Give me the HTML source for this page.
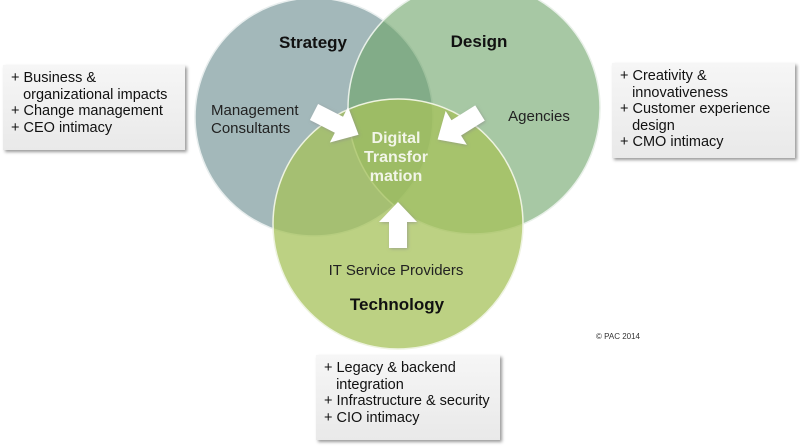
<!DOCTYPE html>
<html><head><meta charset="utf-8"><style>
body{margin:0;width:800px;height:448px;background:#fff;overflow:hidden;font-family:"Liberation Sans",sans-serif}
.box{position:absolute;background:linear-gradient(#f6f6f6,#e9e9e9);box-shadow:2px 2px 3px #999;font-size:14.5px;line-height:16.5px;color:#111;padding:5px 0 0 8px;box-sizing:border-box;white-space:nowrap}
</style></head><body>
<svg width="800" height="448" style="position:absolute;left:0;top:0">
<defs>
<filter id="sh"><feDropShadow dx="1" dy="1" stdDeviation="1.5" flood-color="#888" flood-opacity="0.6"/></filter>
</defs>
<circle cx="314" cy="117" r="119" fill="#a3b8ba" stroke="#e8eeee" stroke-width="1.5"/>
<circle cx="474" cy="108" r="126" fill="#6ca367" fill-opacity="0.6" stroke="#e8f0e8" stroke-width="1.5"/>
<circle cx="398" cy="224" r="125" fill="#a5c25a" fill-opacity="0.75" stroke="#eef3e0" stroke-width="1.5"/>
<g fill="#fff" filter="url(#sh)">
<polygon points="0,-9 28,-9 28,-20 50,0 28,20 28,9 0,9" transform="translate(314,112) rotate(27)"/>
<polygon points="0,-9 28,-9 28,-20 50,0 28,20 28,9 0,9" transform="translate(480,113) rotate(148)"/>
<polygon points="0,-9 26,-9 26,-19 46,0 26,19 26,9 0,9" transform="translate(398,248) rotate(-90)"/>
</g>
<g font-family="Liberation Sans, sans-serif">
<text x="313" y="48" font-size="17" font-weight="bold" text-anchor="middle" fill="#111">Strategy</text>
<text x="479" y="47" font-size="17" font-weight="bold" text-anchor="middle" fill="#111">Design</text>
<text x="397" y="310" font-size="17" font-weight="bold" text-anchor="middle" fill="#111">Technology</text>
<text x="211" y="115" font-size="15" fill="#222">Management</text>
<text x="211" y="133" font-size="15" fill="#222">Consultants</text>
<text x="539" y="121" font-size="15" fill="#222" text-anchor="middle">Agencies</text>
<text x="396" y="275" font-size="15" fill="#222" text-anchor="middle">IT Service Providers</text>
<text x="396" y="143" font-size="16" font-weight="bold" fill="#f2f5e8" text-anchor="middle">Digital</text>
<text x="396" y="162" font-size="16" font-weight="bold" fill="#f2f5e8" text-anchor="middle">Transfor</text>
<text x="396" y="181" font-size="16" font-weight="bold" fill="#f2f5e8" text-anchor="middle">mation</text>
<text x="596" y="339" font-size="8" fill="#333">© PAC 2014</text>
</g>
</svg>
<div class="box" style="left:3px;top:65px;width:182px;height:85px">
+ Business &amp;<br>&nbsp;&nbsp;&nbsp;organizational impacts<br>+ Change management<br>+ CEO intimacy</div>
<div class="box" style="left:612px;top:63px;width:183px;height:95px">
+ Creativity &amp;<br>&nbsp;&nbsp;&nbsp;innovativeness<br>+ Customer experience<br>&nbsp;&nbsp;&nbsp;design<br>+ CMO intimacy</div>
<div class="box" style="left:316px;top:355px;width:184px;height:85px">
+ Legacy &amp; backend<br>&nbsp;&nbsp;&nbsp;integration<br>+ Infrastructure &amp; security<br>+ CIO intimacy</div>
</body></html>
